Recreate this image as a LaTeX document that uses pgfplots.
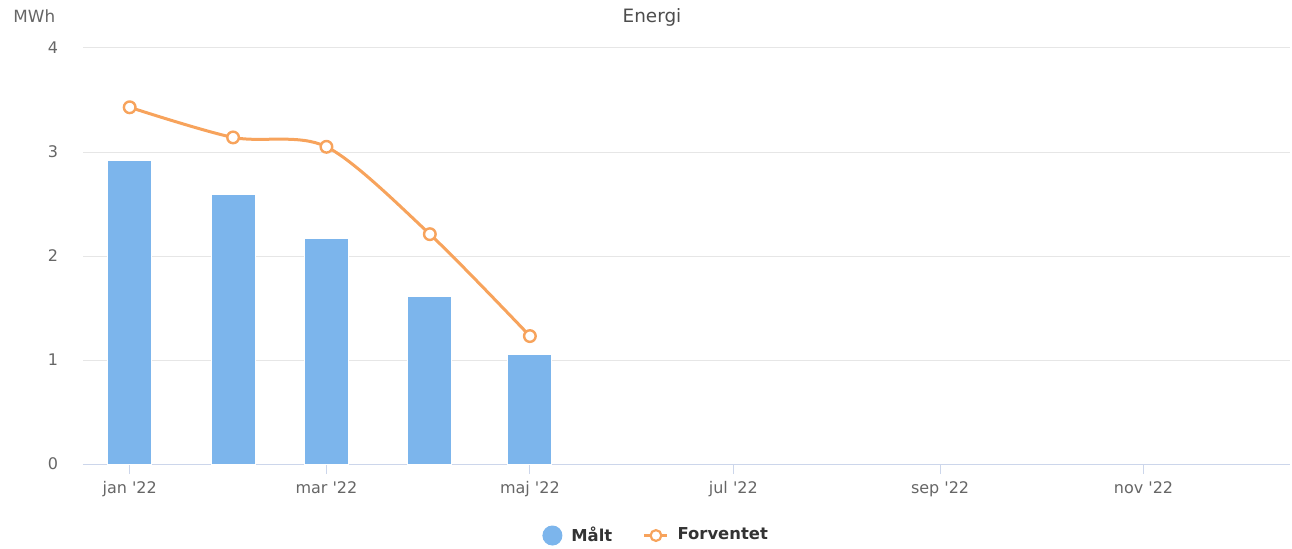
\documentclass[border=0pt]{standalone}
\usepackage{fontspec}
\setmainfont{DejaVu Sans}
\newfontfamily\dv{DejaVu Sans}
\usepackage{pgfplots}
\usepackage{pgfplotstable}
\pgfplotsset{compat=1.18}
\definecolor{maltc}{HTML}{7CB5EC}
\definecolor{forvc}{HTML}{F7A35C}
\definecolor{gridc}{HTML}{E6E6E6}
\definecolor{axisc}{HTML}{CCD6EB}
\definecolor{labc}{HTML}{666666}
\definecolor{titc}{HTML}{4D4D4D}
\definecolor{legc}{HTML}{333333}

\pgfplotstableread{
x y
0 2.92
31 2.59
59 2.17
90 1.61
120 1.05
}\malt

\pgfplotstableread{
x y
0 3.43
31 3.14
59 3.05
90 2.21
120 1.23
}\forv

\begin{document}
\dv
\begin{tikzpicture}
\useasboundingbox (0,0) rectangle (646pt,274pt);
\begin{axis}[
  at={(41.5pt,42pt)}, anchor=south west,
  x=1.6675pt, y=52pt,
  xmin=-14, xmax=348, ymin=0, ymax=4,
  axis x line*=bottom, axis y line*=left,
  x axis line style={draw=axisc, line width=0.5pt, -},
  y axis line style={draw=none},
  ytick={0,1,2,3,4},
  ymajorgrids, grid style={draw=gridc, line width=0.5pt},
  xtick={0,59,120,181,243,304},
  xticklabels={{jan \textquotesingle22},{mar \textquotesingle22},{maj \textquotesingle22},{jul \textquotesingle22},{sep \textquotesingle22},{nov \textquotesingle22}},
  xtick align=outside, major tick length=5pt,
  xtick style={draw=axisc, line width=0.5pt},
  ytick style={draw=none},
  /pgf/number format/assume math mode=true,
  tick label style={font=\dv\fontsize{8}{9.6}\selectfont, text=labc},
  yticklabel style={anchor=east, inner sep=0pt, xshift=-12.25pt},
  xticklabel style={anchor=base, inner sep=0pt, yshift=-9.5pt},
  legend columns=2,
  legend style={at={(0.3802,-0.1719)}, anchor=west, draw=none, fill=none, inner sep=0pt,
    nodes={inner sep=0pt, font=\dv\bfseries\fontsize{8.2}{10}\selectfont, text=legc},
    /tikz/every odd column/.append style={column sep=4.5pt},
    /tikz/every even column/.append style={column sep=15.5pt}},
  legend cell align=left,
  clip=false,
]
\addplot[ybar, bar width=22pt, fill=maltc, draw=white, line width=0.5pt,
  legend image code/.code={\fill[maltc] (4.75pt,0pt) circle (4.75pt);}]
  table[x=x, y=y] {\malt};
\addlegendentry{Målt}
\addplot[forvc, line width=1.5pt, smooth, mark=*, mark size=2.9pt,
  mark options={fill=white, draw=forvc, line width=1.2pt},
  legend image code/.code={\draw[forvc, line width=1.2pt] (0pt,0pt) -- (11.5pt,0pt);
    \draw[forvc, fill=white, line width=1.1pt] (5.75pt,0pt) circle (2.7pt);}]
  table[x=x, y=y] {\forv};
\addlegendentry{Forventet}
\end{axis}
\node[anchor=base, inner sep=0pt, text=titc, font=\dv\fontsize{9.2}{11}\selectfont] at (326pt,262.5pt) {Energi};
\node[anchor=base west, inner sep=0pt, text=labc, font=\dv\fontsize{8.4}{10}\selectfont] at (6.5pt,262.8pt) {MWh};
\end{tikzpicture}
\end{document}
